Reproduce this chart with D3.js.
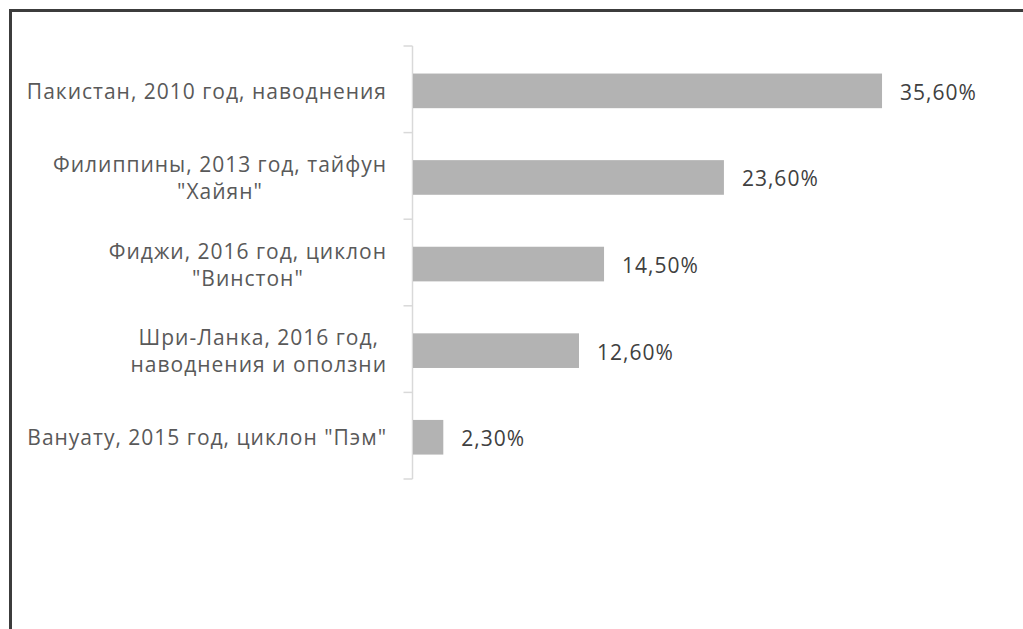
<!DOCTYPE html>
<html>
<head>
<meta charset="utf-8">
<script src="https://cdn.jsdelivr.net/npm/d3@7"></script>
<style>
  html, body { margin: 0; padding: 0; background: #fff; }
  svg { display: block; }
</style>
</head>
<body>
<svg id="chart" width="1023" height="629"></svg>
<script>
// ---- data ----
const categories = [
  "Пакистан, 2010 год, наводнения",
  "Филиппины, 2013 год, тайфун\n\"Хайян\"",
  "Фиджи, 2016 год, циклон\n\"Винстон\"",
  "Шри-Ланка, 2016 год,\nнаводнения и оползни",
  "Вануату, 2015 год, циклон \"Пэм\""
];
const values = [35.6, 23.6, 14.5, 12.6, 2.3];
const valueLabels = ["35,60%", "23,60%", "14,50%", "12,60%", "2,30%"];
const xDomain = [0, 40];

// ---- layout ----
const svg = d3.select("#chart");
const FONT = "'Open Sans', 'Noto Sans', sans-serif";
const FS = 21;
const LS = "1.0px";
const FW = 500;

svg.append("rect")
  .attr("x", 10.5).attr("y", 10.5)
  .attr("width", 1100).attr("height", 700)
  .attr("fill", "none")
  .attr("stroke", "#3c3c3c")
  .attr("stroke-width", 3);

const axisX = 412.5;
const y = d3.scaleBand()
  .domain(categories)
  .range([46, 479])
  .paddingInner(0.6)
  .paddingOuter(0.3)
  .align(0.53);

const x = d3.scaleLinear().domain(xDomain).range([413, 940]);

// category axis ticks at band boundaries
const bounds = d3.range(categories.length + 1).map(i => 46 + i * (433 / categories.length));
const axisG = svg.append("g");
axisG.append("line")
  .attr("x1", axisX).attr("x2", axisX)
  .attr("y1", bounds[0]).attr("y2", bounds[bounds.length - 1])
  .attr("stroke", "#d9d9d9").attr("stroke-width", 1.5);
axisG.selectAll("line.tick").data(bounds).join("line")
  .attr("class", "tick")
  .attr("x1", axisX - 9).attr("x2", axisX)
  .attr("y1", d => d).attr("y2", d => d)
  .attr("stroke", "#d9d9d9").attr("stroke-width", 1.5);

// bars
svg.selectAll("rect.bar").data(categories).join("rect")
  .attr("class", "bar")
  .attr("x", x(0))
  .attr("y", d => y(d))
  .attr("width", (d, i) => x(values[i]) - x(0))
  .attr("height", y.bandwidth())
  .attr("fill", "#b3b3b3");

// value labels
svg.selectAll("text.val").data(categories).join("text")
  .attr("class", "val")
  .attr("x", (d, i) => x(values[i]) + 18)
  .attr("y", d => y(d) + y.bandwidth() / 2 + 1)
  .attr("dominant-baseline", "central")
  .attr("font-family", FONT)
  .attr("font-size", FS)
  .attr("font-weight", FW)
  .attr("letter-spacing", LS)
  .attr("fill", "#404040")
  .text((d, i) => valueLabels[i]);

// category labels
const labelRight = 387;
const lineH = 27;
categories.forEach((c, i) => {
  const lines = c.split("\n");
  const g = svg.append("g");
  const cy = y(c) + y.bandwidth() / 2;
  const texts = lines.map((ln, j) => g.append("text")
    .attr("y", cy + (j - (lines.length - 1) / 2) * lineH)
    .attr("dominant-baseline", "central")
    .attr("font-family", FONT)
    .attr("font-size", FS)
    .attr("font-weight", FW)
    .attr("letter-spacing", LS)
    .attr("fill", "#595959")
    .attr("text-anchor", "middle")
    .text(ln));
  const widths = texts.map(t => t.node().getComputedTextLength());
  const maxW = d3.max(widths);
  texts.forEach(t => t.attr("x", labelRight - maxW / 2));
});
</script>
</body>
</html>
